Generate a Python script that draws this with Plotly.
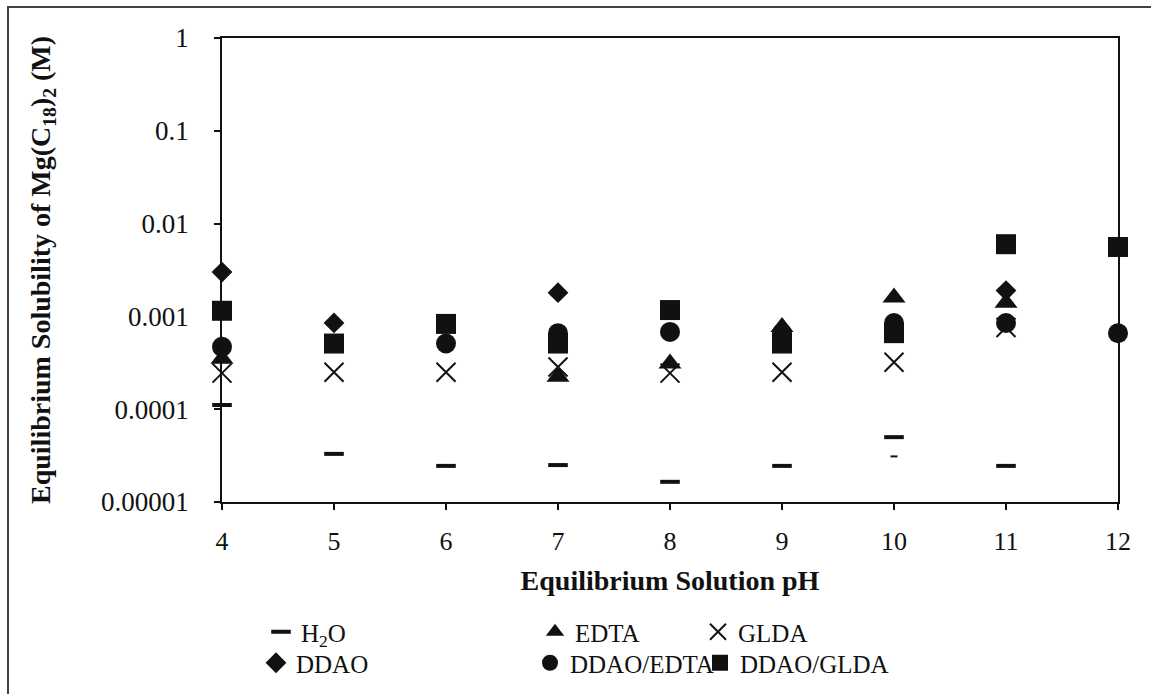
import plotly.graph_objects as go

W, H = 1151, 694
L, R, T, B = 222, 1118, 38, 502  # plot area in px

pH = [4, 5, 6, 7, 8, 9, 10, 11, 12]

h2o       = [0.000111, 0.000033, 0.0000245, 0.000025, 0.0000165, 0.0000245, 0.00005, 0.0000245, None]
edta      = [0.00035, None, None, 0.000224, 0.00031, 0.00077, 0.0016, 0.0014, None]
glda      = [0.000245, 0.00025, 0.00025, 0.000285, 0.000245, 0.00025, 0.00032, 0.00076, None]
ddao      = [0.003, 0.00085, None, 0.0018, None, None, None, 0.0019, None]
ddao_edta = [0.00047, None, 0.00051, 0.00066, 0.00068, 0.00066, 0.00085, 0.00085, 0.00066]
ddao_glda = [0.00115, 0.00051, 0.00083, 0.00051, 0.00117, 0.00051, 0.00066, 0.006, 0.0056]

# small stray dash mark visible in the scan
stray_x = [10]
stray_y = [0.000031]

names = ["H<sub>2</sub>O", "EDTA", "GLDA", "DDAO", "DDAO/EDTA", "DDAO/GLDA"]
series = [h2o, edta, glda, ddao, ddao_edta, ddao_glda]

INK = "#111111"
FONT = "Liberation Serif, Times New Roman, serif"

markers = [
    dict(symbol="line-ew", size=14, color=INK, line=dict(width=4, color=INK)),
    dict(symbol="triangle-up", size=20, color=INK, line=dict(width=0)),
    dict(symbol="x-thin", size=19, color=INK, line=dict(width=2, color=INK)),
    dict(symbol="diamond", size=16, color=INK, line=dict(width=0)),
    dict(symbol="circle", size=20, color=INK, line=dict(width=0)),
    dict(symbol="square", size=20, color=INK, line=dict(width=0)),
]

# legend item positions (symbol centre px), nudged so the text lands near the reference
leg_pos = [(281, 632), (555, 632), (718, 632), (276, 663), (550, 663), (720, 663)]

fig = go.Figure()
for i, (nm, ys, mk) in enumerate(zip(names, series, markers)):
    fig.add_trace(go.Scatter(
        x=pH, y=ys, mode="markers", name=nm, marker=mk,
        cliponaxis=False, legend="legend" if i == 0 else f"legend{i+1}",
    ))

fig.add_trace(go.Scatter(
    x=stray_x, y=stray_y, mode="markers", showlegend=False, cliponaxis=False,
    marker=dict(symbol="line-ew", size=5, color=INK, line=dict(width=2, color=INK)),
))

legends = {}
for i, (px, py) in enumerate(leg_pos):
    key = "legend" if i == 0 else f"legend{i+1}"
    legends[key] = dict(
        xref="container", yref="container",
        x=(px - 20) / W, y=1 - py / H, xanchor="left", yanchor="middle",
        bgcolor="rgba(0,0,0,0)", borderwidth=0,
        font=dict(family=FONT, size=25, color=INK),
        itemwidth=30, orientation="v",
    )

fig.update_layout(
    width=W, height=H,
    margin=dict(l=L, r=W - R, t=T, b=H - B, autoexpand=False),
    paper_bgcolor="white", plot_bgcolor="white",
    font=dict(family=FONT, color=INK),
    showlegend=True,
    **legends,
)

fig.update_xaxes(
    range=[4, 12], tickmode="array", tickvals=pH, ticktext=[str(v) for v in pH],
    showline=True, linecolor=INK, linewidth=1.5, mirror=True,
    ticks="outside", ticklen=6, tickcolor=INK, tickwidth=1.5,
    showgrid=False, zeroline=False,
    tickfont=dict(family=FONT, size=26, color=INK), ticklabelstandoff=9,
    title=dict(text="<b>Equilibrium Solution pH</b>", font=dict(family=FONT, size=28, color=INK), standoff=15),
)

yticks = [1, 0.1, 0.01, 0.001, 0.0001, 0.00001]
fig.update_yaxes(
    type="log", range=[-5, 0], tickmode="array", tickvals=yticks,
    ticktext=["1", "0.1", "0.01", "0.001", "0.0001", "0.00001"],
    showline=True, linecolor=INK, linewidth=1.5, mirror=True,
    ticks="outside", ticklen=6, tickcolor=INK, tickwidth=1.5,
    showgrid=False, zeroline=False,
    tickfont=dict(family=FONT, size=27, color=INK), ticklabelstandoff=20,
)

# y-axis title placed as rotated text
fig.add_annotation(
    text="<b>Equilibrium Solubility of Mg(C<sub>18</sub>)<sub>2</sub> (M)</b>",
    xref="paper", yref="paper", x=(42 - L) / (R - L), y=0.5,
    xanchor="center", yanchor="middle", textangle=-90, showarrow=False,
    font=dict(family=FONT, size=28, color=INK),
)

# outer frame of the figure (scan border)
fig.add_shape(type="rect", xref="paper", yref="paper",
              x0=(8 - L) / (R - L), x1=(W + 10 - L) / (R - L),
              y0=(B - (H + 10)) / (B - T), y1=(B - 7) / (B - T),
              line=dict(color="#444444", width=2), fillcolor="rgba(0,0,0,0)", layer="below")

fig.write_html("out.html")
